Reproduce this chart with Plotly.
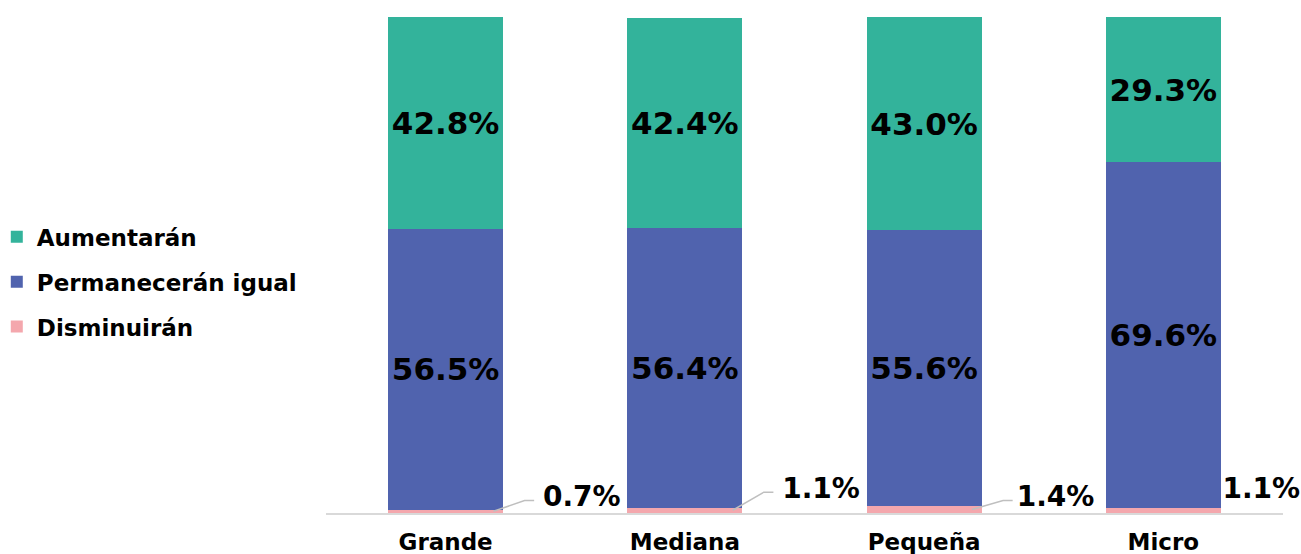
import plotly.graph_objects as go

categorias = ["Grande", "Mediana", "Pequeña", "Micro"]
aumentaran = [42.8, 42.4, 43.0, 29.3]
permaneceran = [56.5, 56.4, 55.6, 69.6]
disminuiran = [0.7, 1.1, 1.4, 1.1]

colores = {
    'aumentan': '#33B39B',
    'igual': '#5063AE',
    'disminuyen': '#F4A7AD',
    'guia': '#BFBFBF',
}
fuente = "DejaVu Sans"

# where the small "Disminuirán" labels sit (offset from category centre, height)
etiqueta_dx = [0.407, 0.407, 0.387, 0.247]
etiqueta_y = [2.8, 4.5, 2.8, 4.5]
con_guia = [True, True, True, False]

x = list(range(len(categorias)))

fig = go.Figure()
fig.add_trace(go.Bar(
    x=x, y=disminuiran, name='Disminuirán',
    marker_color=colores['disminuyen'], width=0.48, marker_line_width=0,
    textposition='none', legendgroup='c', legendrank=3, hoverinfo='skip'
))
fig.add_trace(go.Bar(
    x=x, y=permaneceran, name='Permanecerán igual',
    marker_color=colores['igual'], width=0.48, marker_line_width=0,
    texttemplate='%{y:.1f}%', textposition='inside', insidetextanchor='middle',
    textfont=dict(family=fuente, size=31, color='black', weight='bold'),
    legendgroup='b', legendrank=2
))
fig.add_trace(go.Bar(
    x=x, y=aumentaran, name='Aumentarán',
    marker_color=colores['aumentan'], width=0.48, marker_line_width=0,
    texttemplate='%{y:.1f}%', textposition='inside', insidetextanchor='middle',
    textfont=dict(family=fuente, size=31, color='black', weight='bold'),
    legendgroup='a', legendrank=1
))

# leader lines for the thin bottom segment
gx, gy = [], []
for i, v in enumerate(disminuiran):
    if not con_guia[i]:
        continue
    codo = etiqueta_y[i] - 0.3
    gx += [i + 0.2, i + 0.33, i + 0.37, None]
    gy += [v / 2, codo, codo, None]
fig.add_trace(go.Scatter(
    x=gx, y=gy, mode='lines', line=dict(color=colores['guia'], width=1.5),
    showlegend=False, hoverinfo='skip'
))
fig.add_trace(go.Scatter(
    x=[i + etiqueta_dx[i] for i in x], y=etiqueta_y, mode='text',
    text=[f"{v:.1f}%" for v in disminuiran], textposition='middle right',
    textfont=dict(family=fuente, size=28, color='black', weight='bold'),
    showlegend=False, hoverinfo='skip', cliponaxis=False
))

fig.update_layout(
    template='plotly_white',
    width=1301, height=554,
    barmode='stack',
    margin=dict(l=326, r=18, t=17, b=41, autoexpand=False),
    paper_bgcolor='white', plot_bgcolor='white',
    font=dict(family=fuente, size=23, color='black', weight='bold'),
    legend=dict(
        x=-0.344, xanchor='left', y=0.466, yanchor='middle',
        traceorder='grouped', tracegroupgap=12,
        font=dict(family=fuente, size=23, color='black', weight='bold')
    ),
    xaxis=dict(
        tickvals=x, ticktext=categorias, range=[-0.5, 3.5],
        showgrid=False, zeroline=False, showline=True,
        linecolor='#D9D9D9', linewidth=2,
        ticks='outside', ticklen=7, tickcolor='white',
        tickfont=dict(family=fuente, size=23, color='black', weight='bold')
    ),
    yaxis=dict(range=[0, 100], visible=False),
    uniformtext=dict(minsize=10, mode='show'),
)

fig.write_html("out.html", config={'displayModeBar': False},
               post_script="document.body.style.margin = '0';")
